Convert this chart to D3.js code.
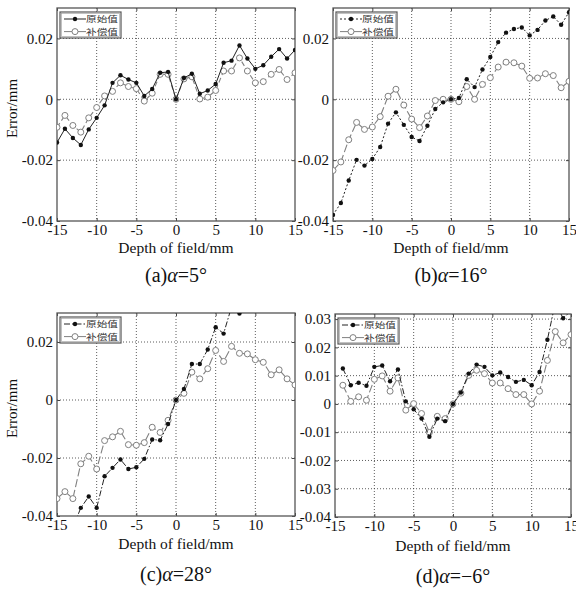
<!DOCTYPE html>
<html>
<head>
<meta charset="utf-8">
<script src="https://cdn.jsdelivr.net/npm/d3@7"></script>
<style>
  body { margin: 0; background: #fff; }
  text { font-family: "Liberation Serif", "Times New Roman", serif; fill: #111; }
  .leg { font-family: "Noto Sans CJK SC", sans-serif; font-size: 8.5px; fill: #333; }
</style>
</head>
<body>
<svg id="chart" width="576" height="590"></svg>
<script>
// depth of field (mm)
var depth = [-15,-14,-13,-12,-11,-10,-9,-8,-7,-6,-5,-4,-3,-2,-1,0,1,2,3,4,5,6,7,8,9,10,11,12,13,14,15];
var depthD = [-14,-13,-12,-11,-10,-9,-8,-7,-6,-5,-4,-3,-2,-1,0,1,2,3,4,5,6,7,8,9,10,11,12,13,14,15];

var legendNames = ["原始值", "补偿值"];
var captions = ["(a)", "(b)", "(c)", "(d)"];
var angles = ["=5°", "=16°", "=28°", "=−6°"];

// (a) alpha = 5
var origA = [-0.0142,-0.0097,-0.0127,-0.015,-0.0099,-0.0061,-0.002,0.0054,0.0079,0.0065,0.0054,0.0011,0.0034,0.0087,0.009,0,0.007,0.0084,0.0018,0.0029,0.005,0.012,0.0127,0.0177,0.0134,0.010,0.0112,0.014,0.0165,0.0134,0.0162];
var compA = [-0.0092,-0.0053,-0.0086,-0.0108,-0.0061,-0.0027,0.0011,0.0026,0.0054,0.0042,0.0035,-0.0006,0.002,0.0082,0.0082,0,0.0067,0.0074,0.0001,0.0007,0.0029,0.0093,0.0093,0.0136,0.0093,0.0054,0.0058,0.0082,0.0098,0.0065,0.0087];
// (b) alpha = 16
var origB = [-0.038,-0.0341,-0.0267,-0.0199,-0.0218,-0.0196,-0.0157,-0.008,-0.0043,-0.0084,-0.0124,-0.0137,-0.0087,-0.0032,-0.001,0,0.0004,0.0066,0.004,0.0098,0.0139,0.0188,0.0219,0.0231,0.0236,0.021,0.0228,0.0259,0.0272,0.0245,0.0286];
var compB = [-0.0234,-0.0206,-0.0133,-0.0076,-0.0099,-0.0091,-0.0057,0.001,0.0033,-0.0019,-0.0065,-0.0093,-0.0055,-0.0004,0,0,-0.0008,0.0042,0,0.0049,0.0071,0.0106,0.0122,0.012,0.0109,0.0069,0.007,0.0084,0.0078,0.0038,0.0059];
// (c) alpha = 28
var origC = [-0.048,-0.046,-0.044,-0.0372,-0.0333,-0.0372,-0.0263,-0.0234,-0.0205,-0.0238,-0.0232,-0.0203,-0.0136,-0.0139,-0.0083,0,0.0038,0.0124,0.0124,0.0174,0.0251,0.0229,0.0321,0.0298,0.034,0.036,0.037,0.038,0.039,0.040,0.041];
var compC = [-0.034,-0.0316,-0.034,-0.022,-0.0194,-0.0238,-0.014,-0.0127,-0.0108,-0.0154,-0.0156,-0.0147,-0.0094,-0.0112,-0.007,0,0.0023,0.0096,0.0073,0.0108,0.0171,0.0133,0.0185,0.0161,0.0159,0.0139,0.013,0.0087,0.0104,0.0073,0.0052];
// (d) alpha = -6
var origD = [0.0125,0.0066,0.0075,0.0064,0.0131,0.0136,0.008,0.0122,0.0009,-0.0019,-0.0052,-0.0116,-0.0052,-0.0061,0,0.004,0.0107,0.0139,0.0131,0.0101,0.0111,0.0095,0.0078,0.0085,0.0066,0.0113,0.0227,0.0357,0.0303,0.033];
var compD = [0.0066,0.0009,0.0025,0.0013,0.0087,0.0099,0.0045,0.0092,-0.0022,0.0001,-0.0034,-0.0101,-0.0044,-0.0052,0,0.0038,0.0101,0.0119,0.0107,0.0074,0.0074,0.0054,0.0033,0.0033,0,0.0045,0.0154,0.0256,0.0216,0.0245];

var yTicks2 = [-0.04, -0.02, 0, 0.02];
var yTicks1 = [-0.04, -0.03, -0.02, -0.01, 0, 0.01, 0.02, 0.03];
var xTicks = [-15, -10, -5, 0, 5, 10, 15];

var svg = d3.select("#chart");

var panels = [
  { id: "a", x0: 57, x1: 295, y0: 8, y1: 221, ymax: 0.03, yt: yTicks2, xs: depth, orig: origA, comp: compA,
    oDash: null, cDash: "5,3", ylab: true, labY: 253, capY: 282 },
  { id: "b", x0: 333, x1: 569, y0: 8, y1: 221, ymax: 0.03, yt: yTicks2, xs: depth, orig: origB, comp: compB,
    oDash: "2,2", cDash: "8,3", ylab: false, labY: 253, capY: 282 },
  { id: "c", x0: 57, x1: 295, y0: 313, y1: 516, ymax: 0.03, yt: yTicks2, xs: depth, orig: origC, comp: compC,
    oDash: "6,2,1.5,2", cDash: "8,3", ylab: true, labY: 549, capY: 581 },
  { id: "d", x0: 335, x1: 571, y0: 314, y1: 517, ymax: 0.0318, yt: yTicks1, xs: depthD, orig: origD, comp: compD,
    oDash: "6,2,1.5,2", cDash: "8,3", ylab: false, labY: 551, capY: 583 }
];

function fmt(d) { return String(+d.toFixed(2)); }

panels.forEach(function (p, k) {
  var x = d3.scaleLinear().domain([-15, 15]).range([p.x0, p.x1]);
  var y = d3.scaleLinear().domain([-0.04, p.ymax]).range([p.y1, p.y0]);
  var g = svg.append("g");

  // grid
  g.selectAll(".gx").data(xTicks.slice(1, -1)).enter().append("line")
    .attr("x1", d => x(d)).attr("x2", d => x(d)).attr("y1", p.y0).attr("y2", p.y1)
    .attr("stroke", "#333").attr("stroke-width", 0.8).attr("stroke-dasharray", "1,2");
  g.selectAll(".gy").data(p.yt.filter(d => d > -0.04 && d < p.ymax - 0.0001)).enter().append("line")
    .attr("y1", d => y(d)).attr("y2", d => y(d)).attr("x1", p.x0).attr("x2", p.x1)
    .attr("stroke", "#333").attr("stroke-width", 0.8).attr("stroke-dasharray", "1,2");

  // axes
  var ax = d3.axisBottom(x).tickValues(xTicks).tickSize(-3).tickPadding(3).tickFormat(d => d);
  var ay = d3.axisLeft(y).tickValues(p.yt).tickSize(-3).tickPadding(4).tickFormat(fmt);
  var gx = g.append("g").attr("transform", "translate(0," + p.y1 + ")").call(ax);
  var gy = g.append("g").attr("transform", "translate(" + p.x0 + ",0)").call(ay);
  g.append("g").attr("transform", "translate(0," + p.y0 + ")")
    .call(d3.axisTop(x).tickValues(xTicks).tickSize(-3).tickFormat(""));
  g.append("g").attr("transform", "translate(" + p.x1 + ",0)")
    .call(d3.axisRight(y).tickValues(p.yt).tickSize(-3).tickFormat(""));
  g.selectAll(".domain").remove();
  g.selectAll(".tick line").attr("stroke", "#444");
  [gx, gy].forEach(function (a) {
    a.selectAll("text").attr("font-size", 15).attr("fill", "#111")
      .style("font-family", "Liberation Serif, serif");
  });

  g.append("rect").attr("x", p.x0).attr("y", p.y0)
    .attr("width", p.x1 - p.x0).attr("height", p.y1 - p.y0)
    .attr("fill", "none").attr("stroke", "#555").attr("stroke-width", 1.3);

  // clip
  var cid = "clip" + p.id;
  svg.append("clipPath").attr("id", cid).append("rect")
    .attr("x", p.x0).attr("y", p.y0).attr("width", p.x1 - p.x0).attr("height", p.y1 - p.y0);
  var plot = g.append("g").attr("clip-path", "url(#" + cid + ")");

  var line = d3.line().x((d, i) => x(p.xs[i])).y(d => y(d));

  plot.append("path").datum(p.comp).attr("d", line)
    .attr("fill", "none").attr("stroke", "#808080").attr("stroke-width", 1.1)
    .attr("stroke-dasharray", p.cDash);
  plot.selectAll(".oc").data(p.comp).enter().append("circle")
    .attr("cx", (d, i) => x(p.xs[i])).attr("cy", d => y(d)).attr("r", 3)
    .attr("fill", "#fff").attr("stroke", "#808080").attr("stroke-width", 1);

  plot.append("path").datum(p.orig).attr("d", line)
    .attr("fill", "none").attr("stroke", "#222").attr("stroke-width", 1)
    .attr("stroke-dasharray", p.oDash);
  plot.selectAll(".fd").data(p.orig).enter().append("circle")
    .attr("cx", (d, i) => x(p.xs[i])).attr("cy", d => y(d)).attr("r", 2.2)
    .attr("fill", "#111");

  // legend
  var lx = p.x0 + 3, ly = p.y0 + 4;
  var lg = g.append("g");
  lg.append("rect").attr("x", lx).attr("y", ly).attr("width", 61).attr("height", 26)
    .attr("fill", "#fff").attr("stroke", "#555").attr("stroke-width", 1.2);
  lg.append("rect").attr("x", lx + 1.5).attr("y", ly + 1.5).attr("width", 58).attr("height", 23)
    .attr("fill", "none").attr("stroke", "#999").attr("stroke-width", 0.6);
  [0, 1].forEach(function (j) {
    var yy = ly + 7 + j * 12.6;
    lg.append("line").attr("x1", lx + 4).attr("x2", lx + 26).attr("y1", yy).attr("y2", yy)
      .attr("stroke", j ? "#808080" : "#222").attr("stroke-dasharray", j ? null : p.oDash);
    if (j) {
      lg.append("circle").attr("cx", lx + 15).attr("cy", yy).attr("r", 3)
        .attr("fill", "#fff").attr("stroke", "#808080");
    } else {
      lg.append("circle").attr("cx", lx + 15).attr("cy", yy).attr("r", 2.2).attr("fill", "#111");
    }
    lg.append("text").attr("class", "leg").attr("x", lx + 26).attr("y", yy + 3)
      .attr("textLength", 32).attr("lengthAdjust", "spacingAndGlyphs")
      .text(legendNames[j]);
  });

  // labels
  var cx = (p.x0 + p.x1) / 2;
  g.append("text").attr("x", cx).attr("y", p.labY).attr("text-anchor", "middle")
    .attr("font-size", 15.5).text("Depth of field/mm");
  var cap = g.append("text").attr("x", cx).attr("y", p.capY).attr("text-anchor", "middle")
    .attr("font-size", 20);
  cap.append("tspan").text(captions[k]);
  cap.append("tspan").attr("font-style", "italic").text("α");
  cap.append("tspan").text(angles[k]);
  if (p.ylab) {
    g.append("text").attr("transform", "translate(17," + ((p.y0 + p.y1) / 2 - 6) + ") rotate(-90)")
      .attr("text-anchor", "middle").attr("font-size", 15).text("Error/mm");
  }
});
</script>
</body>
</html>
